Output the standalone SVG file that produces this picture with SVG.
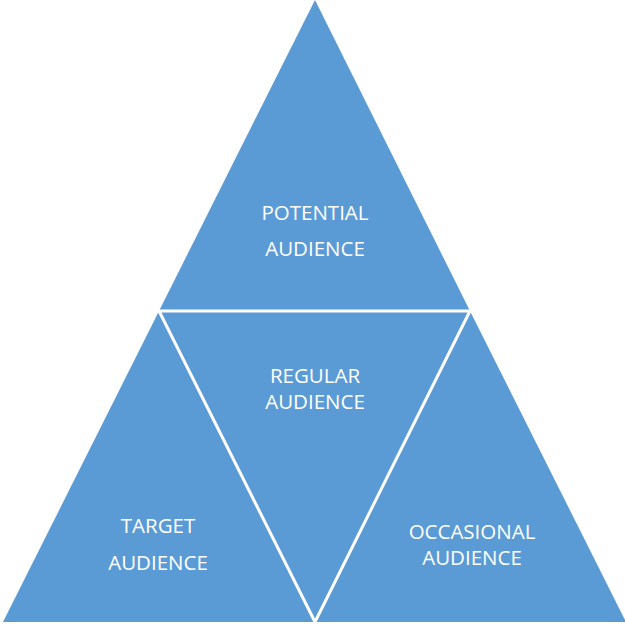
<svg xmlns="http://www.w3.org/2000/svg" width="625" height="624" viewBox="0 0 625 624">
<style>
.t{fill:#5B9BD5}
.s{fill:#5B9BD5;stroke:#FFFFFF;stroke-width:3;stroke-linejoin:miter}
.l{font-family:"Open Sans","Liberation Sans",sans-serif;font-size:20.5px;fill:#FFFFFF;text-anchor:middle}
</style>
<rect width="625" height="624" fill="#FFFFFF"/>
<g id="potential">
<polygon class="t" points="315,0 159,311 470,311"/>
<text class="l" x="315" y="220">POTENTIAL</text>
<text class="l" x="315" y="256">AUDIENCE</text>
</g>
<g id="target">
<polygon class="t" points="159,311 3,622 315,622"/>
<text class="l" x="158" y="533">TARGET</text>
<text class="l" x="158" y="570">AUDIENCE</text>
</g>
<g id="occasional">
<polygon class="t" points="470,311 315,622 626,622"/>
<text class="l" x="472" y="539">OCCASIONAL</text>
<text class="l" x="472" y="565">AUDIENCE</text>
</g>
<g id="regular">
<polygon class="s" points="159,311 470,311 315,622"/>
<text class="l" x="315" y="383">REGULAR</text>
<text class="l" x="315" y="409">AUDIENCE</text>
</g>
<g id="connectors"></g>
</svg>
